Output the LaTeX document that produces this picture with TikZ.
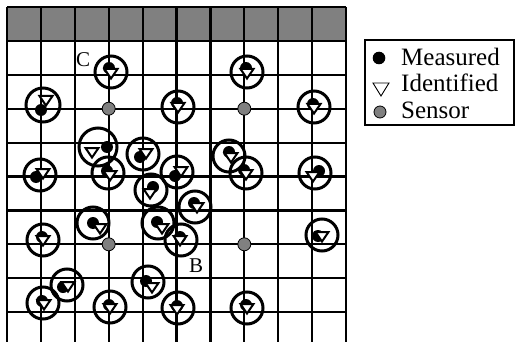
\documentclass[tikz,border=0pt]{standalone}
\usepackage{fontspec}
\setmainfont{Liberation Serif}
\begin{document}
\begin{tikzpicture}[x=1pt,y=-1pt,
  gridline/.style={line width=2.2pt,black},
  ring/.style={line width=3pt,black},
  tri/.style={line width=2pt,black,fill=white,line join=miter},
  sensor/.style={fill=gray,draw=black,line width=0.8pt},
  lbl/.style={inner sep=0pt,anchor=base west,font=\fontsize{21}{21}\selectfont},
  leg/.style={inner sep=0pt,anchor=base west,font=\fontsize{25}{25}\selectfont}]
\useasboundingbox (0,0) rectangle (516,342);
% header band
\fill[gray] (7,7) rectangle (346,40.9);
% grid
\foreach \i in {0,...,10} {
  \draw[gridline] ({7+33.9*\i},7) -- ({7+33.9*\i},342);
}
\foreach \j in {0,...,9} {
  \draw[gridline] (7,{7+33.9*\j}) -- (346,{7+33.9*\j});
}
% sensors
\foreach \x/\y in {108.7/108.7,244.3/108.7,108.7/244.3,244.3/244.3}
  \draw[sensor] (\x,\y) circle (6.5pt);
% markers: circle x,y,r ; dot x,y ; triangle x,y
\newcommand{\mkr}[7]{%
  \draw[ring] (#1,#2) circle (#3pt);
  \fill (#4,#5) circle (6pt);
  \draw[tri,shift={(#6,#7)}] (-6.5,-4) -- (6.5,-4) -- (0,5.5) -- cycle;}
\mkr{111}{72}{16}{109}{68}{111}{73}
\mkr{247}{72}{16}{246}{68}{247}{73}
\mkr{43}{105}{17}{41}{110}{46}{100}
\mkr{178}{107}{16}{177}{103}{178}{107}
\mkr{314}{107}{16}{313}{104}{314}{108}
\mkr{98}{147}{19}{107}{147}{92}{152}
\mkr{143}{154}{16}{140}{157}{146}{153}
\mkr{108}{173}{16}{107}{171}{110}{175}
\mkr{177}{172}{16}{175}{176}{181}{171}
\mkr{229}{156}{16}{229}{152}{231}{157}
\mkr{246}{173}{16}{244}{170}{246}{174}
\mkr{40}{175}{16}{36}{177}{43}{173}
\mkr{315}{173}{16}{319}{171}{313}{176}
\mkr{151}{190}{16}{153}{187}{150}{193}
\mkr{195}{207}{16}{194}{203}{197}{207}
\mkr{93}{223}{16}{93}{223}{100}{228}
\mkr{158}{223}{16}{157}{222}{162}{228}
\mkr{181}{240}{16}{180}{237}{180}{240}
\mkr{43}{240}{16}{42}{237}{43}{240}
\mkr{322}{235}{16}{318}{236}{322}{236}
\mkr{67}{285}{16}{63}{287}{68}{286}
\mkr{43}{303}{16}{42}{301}{44}{304}
\mkr{110}{307}{16}{109}{305}{110}{308}
\mkr{148}{282}{16}{146}{281}{152}{287}
\mkr{178}{308}{16}{177}{306}{177}{309}
\mkr{247}{308}{16}{246}{305}{247}{308}
% point labels
\node[lbl] (C) at (76,67) {C};
\node[lbl] (B) at (189,272) {B};
% legend
\draw[line width=1.2pt] (365,40) rectangle (514,125);
\fill (379,58) circle (6.3pt);
\draw[line width=0.9pt,line join=miter] (373,83) -- (389,83) -- (381,96) -- cycle;
\draw[sensor] (380,112) circle (6pt);
\node[leg] (m) at (401,66) {Measured};
\node[leg] (i) at (401,92) {Identified};
\node[leg] (s) at (401,118) {Sensor};
\end{tikzpicture}
\end{document}
